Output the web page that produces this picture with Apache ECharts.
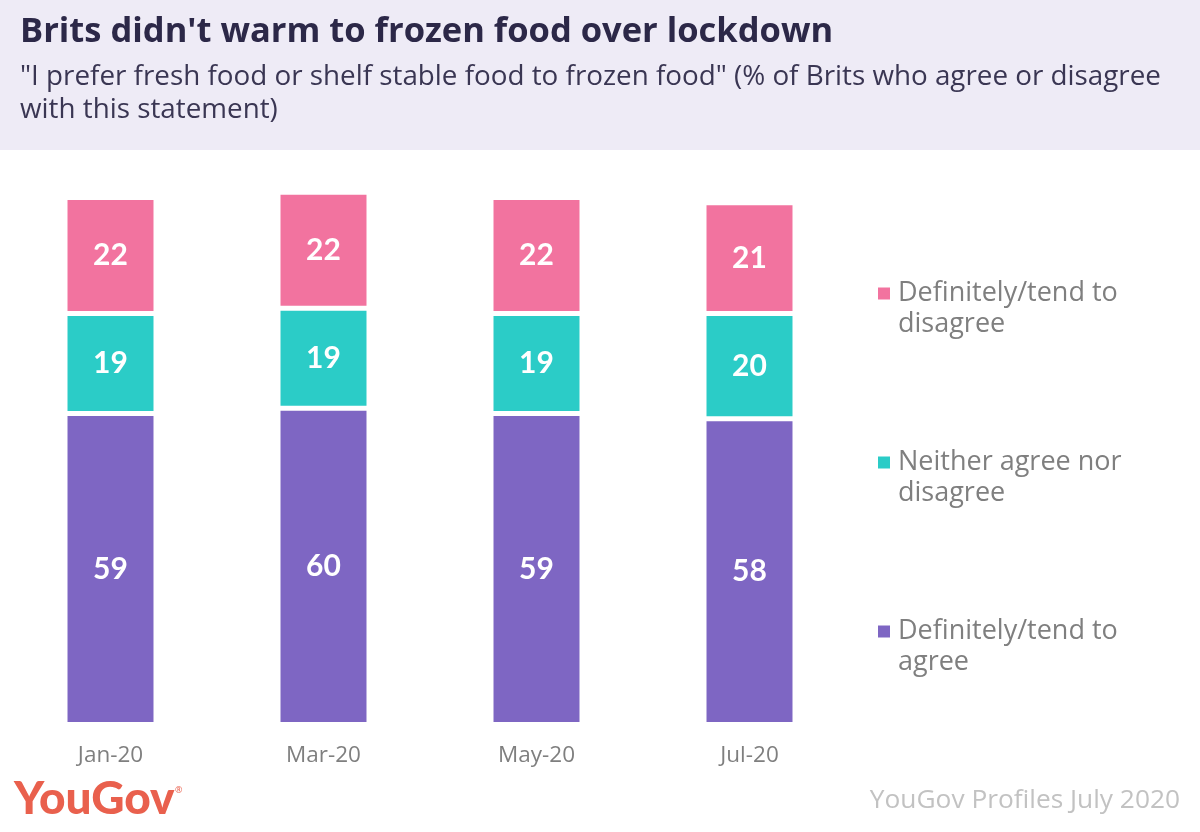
<!DOCTYPE html>
<html>
<head>
<meta charset="utf-8">
<script src="https://cdn.jsdelivr.net/npm/echarts@6/dist/echarts.min.js"></script>
<style>
html,body{margin:0;padding:0;background:#fff;}
#chart{width:1200px;height:832px;}
</style>
</head>
<body>
<div id="chart"></div>
<script>
const categories = ['Jan-20', 'Mar-20', 'May-20', 'Jul-20'];
const agree = [59, 60, 59, 58];
const neither = [19, 19, 19, 20];
const disagree = [22, 22, 22, 21];
const seriesNames = ['Definitely/tend to agree', 'Neither agree nor disagree', 'Definitely/tend to disagree'];
const legendLabels = {
  'Definitely/tend to disagree': '\u00a0\nDefinitely/tend to\ndisagree',
  'Neither agree nor disagree': '\u00a0\nNeither agree nor\ndisagree',
  'Definitely/tend to agree': '\u00a0\nDefinitely/tend to\nagree'
};
const colors = ['#7e66c3', '#2bccc7', '#f2739f'];

const FONT = '"Open Sans", Lato, sans-serif';
const NUMFONT = 'Lato, "Open Sans", sans-serif';
const chart = echarts.init(document.getElementById('chart'), null, {renderer: 'canvas'});

function barSeries(name, data, color) {
  return {
    name: name,
    type: 'bar',
    stack: 'total',
    data: data,
    barWidth: 91,
    clip: false,
    itemStyle: {color: color, borderColor: '#ffffff', borderWidth: 2.5},
    label: {
      show: true,
      position: 'inside',
      color: '#ffffff',
      fontFamily: NUMFONT,
      fontWeight: 'bold',
      fontSize: 30
    },
    emphasis: {disabled: true}
  };
}

chart.setOption({
  animation: false,
  backgroundColor: '#ffffff',
  graphic: [
    {type: 'rect', left: 0, top: 0, shape: {width: 1200, height: 150}, style: {fill: '#eeebf6'}, z: -1},
    {type: 'text', left: 20, top: 15, style: {text: "Brits didn't warm to frozen food over lockdown", fill: '#2c2848', font: 'bold 34.5px ' + FONT}},
    {type: 'text', left: 20, top: 61, style: {text: '"I prefer fresh food or shelf stable food to frozen food" (% of Brits who agree or disagree\nwith this statement)', fill: '#3a3653', font: '27.8px ' + FONT, lineHeight: 33}},
    {type: 'text', left: 14, top: 776, style: {text: 'YouGov', fill: '#e9604d', font: '900 46px ' + NUMFONT}},
    {type: 'text', left: 175, top: 786, style: {text: '®', fill: '#e9604d', font: '9px ' + FONT}},
    {type: 'text', right: 20, top: 788, style: {text: 'YouGov Profiles July 2020', fill: '#c2c2c2', font: '26.3px ' + FONT}}
  ],
  legend: {
    orient: 'vertical',
    left: 871,
    top: 242,
    itemWidth: 14,
    itemHeight: 14,
    itemGap: 76,
    icon: 'rect',
    selectedMode: false,
    data: [seriesNames[2], seriesNames[1], seriesNames[0]],
    formatter: function (n) { return legendLabels[n]; },
    textStyle: {color: '#7f7f7f', fontFamily: FONT, fontSize: 27, lineHeight: 31, padding: [0, 0, 0, 2]}
  },
  grid: {left: 4, right: 344, top: 197.5, bottom: 107.5},
  xAxis: {
    type: 'category',
    data: categories,
    axisLine: {show: false},
    axisTick: {show: false},
    axisLabel: {color: '#7f7f7f', fontFamily: FONT, fontSize: 22.5, margin: 20}
  },
  yAxis: {
    type: 'value',
    min: 0,
    max: 100,
    show: false,
    splitLine: {show: false}
  },
  series: [
    barSeries(seriesNames[0], agree, colors[0]),
    barSeries(seriesNames[1], neither, colors[1]),
    barSeries(seriesNames[2], disagree, colors[2])
  ]
});
</script>
</body>
</html>
